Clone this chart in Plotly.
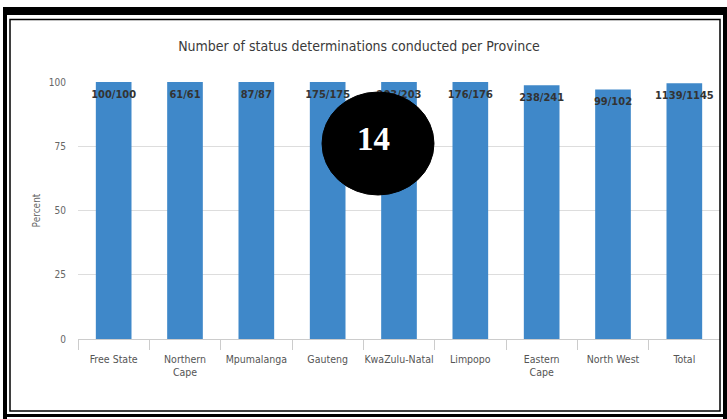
import plotly.graph_objects as go

# data
provinces = ["Free State", "Northern<br>Cape", "Mpumalanga", "Gauteng", "KwaZulu-Natal",
             "Limpopo", "Eastern<br>Cape", "North West", "Total"]
conducted = [100, 61, 87, 175, 203, 176, 238, 99, 1139]
received = [100, 61, 87, 175, 203, 176, 241, 102, 1145]
y_ticks = [0, 25, 50, 75, 100]

percent = [c / r * 100 for c, r in zip(conducted, received)]
labels = [f"{c}/{r}" for c, r in zip(conducted, received)]

W, H = 727, 419
L, R, T, B = 78, 720, 82, 339   # plot area in pixels

FONT = "DejaVu Sans Condensed, Liberation Sans Narrow, sans-serif"
BAR = "#3f88c9"


def px(x):
    return (x - L) / (R - L)


def py(y):
    return (B - y) / (B - T)


def font(size, color, **kw):
    return dict(family=FONT, size=size, color=color, **kw)


fig = go.Figure()
fig.add_trace(go.Bar(
    x=provinces, y=percent,
    marker=dict(color=BAR, line=dict(width=0)),
    hoverinfo="skip",
))
# value labels sit just under each bar top; an invisible marker pushes them down a little
fig.add_trace(go.Scatter(
    x=provinces, y=percent,
    mode="markers+text", text=labels,
    marker=dict(size=10, opacity=0),
    textposition="bottom center",
    textfont=font(11, "#333333", weight="bold"),
    hoverinfo="skip",
    cliponaxis=False,
))

# frame around the picture
shapes = []
for x0, y0, x1, y1 in [(3, 7, 727, 15), (3, 7, 7, 419), (723, 7, 727, 419), (3, 414, 727, 417)]:
    shapes.append(dict(type="rect", xref="paper", yref="paper",
                       x0=px(x0), x1=px(x1), y0=py(y1), y1=py(y0),
                       fillcolor="black", line=dict(width=0), layer="above"))
shapes.append(dict(type="rect", xref="paper", yref="paper",
                   x0=px(10), x1=px(720), y0=py(411), y1=py(19.5),
                   line=dict(color="black", width=1.5), layer="above"))
# page-number badge
shapes.append(dict(type="circle", xref="paper", yref="paper",
                   x0=px(322), x1=px(434), y0=py(195), y1=py(92),
                   fillcolor="black", line=dict(color="black", width=1), layer="above"))

fig.update_layout(
    width=W, height=H,
    margin=dict(l=L, r=W - R, t=T, b=H - B, pad=0),
    paper_bgcolor="white", plot_bgcolor="white",
    showlegend=False,
    bargap=0.5,
    font=font(10, "#666666"),
    title=dict(text="Number of status determinations conducted per Province",
               x=359 / W, xanchor="center", y=1 - 46 / H, yanchor="middle",
               font=font(14, "#3a3a3a")),
    shapes=shapes,
    annotations=[dict(text="<b>14</b>", xref="paper", yref="paper",
                      x=px(373), y=py(139), xanchor="center", yanchor="middle",
                      showarrow=False,
                      font=dict(family="Liberation Serif, Times New Roman, serif",
                                size=33, color="white"))],
)
fig.update_xaxes(
    range=[-0.5, len(provinces) - 0.5], automargin=False,
    showgrid=False, showline=True, linecolor="#cccccc", linewidth=1,
    ticks="outside", tickson="boundaries", ticklen=10, tickcolor="#cccccc",
    tickangle=0, ticklabelstandoff=10,
    tickfont=font(10.5, "#555555"),
)
fig.update_yaxes(
    range=[0, 100], tickvals=y_ticks, showline=False, zeroline=False,
    automargin=False,
    gridcolor="#dddddd", gridwidth=1, ticks="", ticklabelstandoff=11,
    tickfont=font(10, "#666666"),
    title=dict(text="Percent", standoff=6, font=font(10, "#666666")),
)

# drop the browser's default page margin so the figure sits at the window's corner
fig.write_html("out.html", config={"displayModeBar": False},
               post_script="document.body.style.margin='0';")
